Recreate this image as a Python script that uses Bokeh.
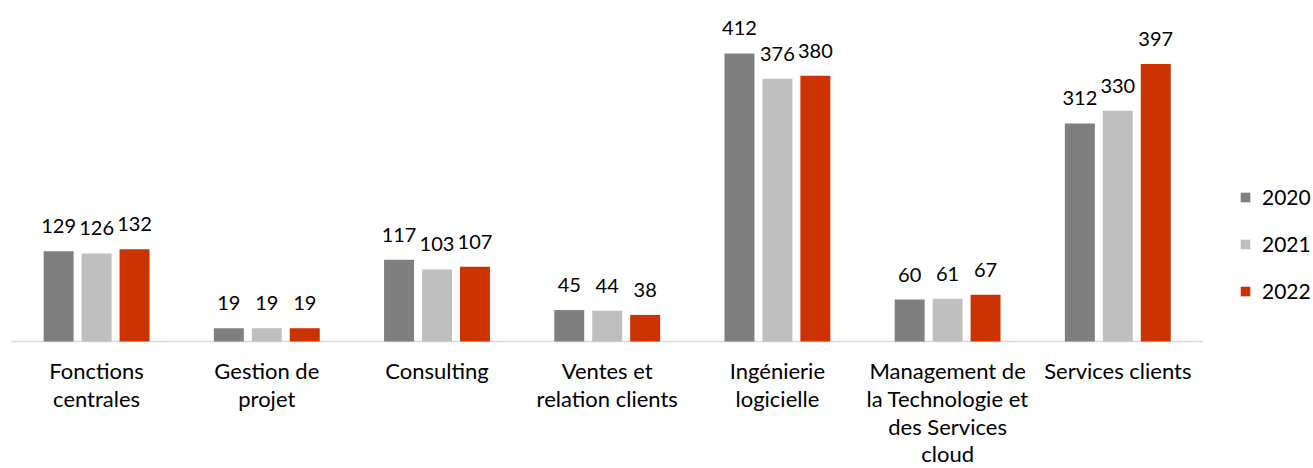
from bokeh.plotting import figure
from bokeh.models import ColumnDataSource, Range1d, Legend, LegendItem
from bokeh.core.properties import value
from bokeh.embed import file_html
from bokeh.resources import INLINE

categories = ["Fonctions\ncentrales", "Gestion de\nprojet", "Consulting",
              "Ventes et\nrelation clients", "Ingénierie\nlogicielle",
              "Management de\nla Technologie et\ndes Services\ncloud",
              "Services clients"]
years = ["2020", "2021", "2022"]
v2020 = [129, 19, 117, 45, 412, 60, 312]
v2021 = [126, 19, 103, 44, 376, 61, 330]
v2022 = [132, 19, 107, 38, 380, 67, 397]
colors = ["#7f7f7f", "#bfbfbf", "#cc3300"]

FONT = "Lato"
n = len(categories)
centers = [i + 0.5 for i in range(n)]

W, H = 1311, 468
p = figure(width=W, height=H, output_backend="svg", toolbar_location=None,
           x_range=Range1d(-0.0646, 7.638), y_range=Range1d(-181.7, 487.8),
           min_border=0, min_border_left=0, min_border_right=0,
           min_border_top=0, min_border_bottom=0)
p.outline_line_color = None
p.xaxis.visible = False
p.yaxis.visible = False
p.grid.visible = False
p.background_fill_color = "white"

# baseline
p.segment(x0=[0], y0=[0], x1=[n], y1=[0], line_color="#d9d9d9", line_width=1.5)

offsets = [-0.223, 0.0, 0.223]
bw = 0.176
renderers = []
for vals, off, col in zip([v2020, v2021, v2022], offsets, colors):
    src = ColumnDataSource(dict(x=[c + off for c in centers], top=vals,
                                lab=[str(v) for v in vals]))
    r = p.vbar(x="x", top="top", bottom=0, width=bw, source=src,
               fill_color=col, line_color=None)
    renderers.append(r)
    p.text(x="x", y="top", text="lab", source=src, text_align="center",
           text_baseline="bottom", y_offset=-18, text_font=value(FONT),
           text_font_size="20px", text_color="#000000")

csrc = ColumnDataSource(dict(x=centers, y=[0] * n, t=categories))
p.text(x="x", y="y", text="t", source=csrc, text_align="center",
       text_baseline="top", y_offset=16, text_font=value(FONT),
       text_font_size="22px", text_line_height=1.02, text_color="#000000")

legend = Legend(items=[LegendItem(label=y, renderers=[r]) for y, r in zip(years, renderers)],
                location=(1239, 165), orientation="vertical",
                glyph_width=12, glyph_height=12, spacing=22,
                label_text_font=FONT, label_text_font_size="21px",
                label_text_color="#000000", border_line_color=None,
                background_fill_alpha=0, padding=0, margin=0,
                label_standoff=11)
p.add_layout(legend, "center")

open("out.html", "w").write(file_html(p, INLINE))
